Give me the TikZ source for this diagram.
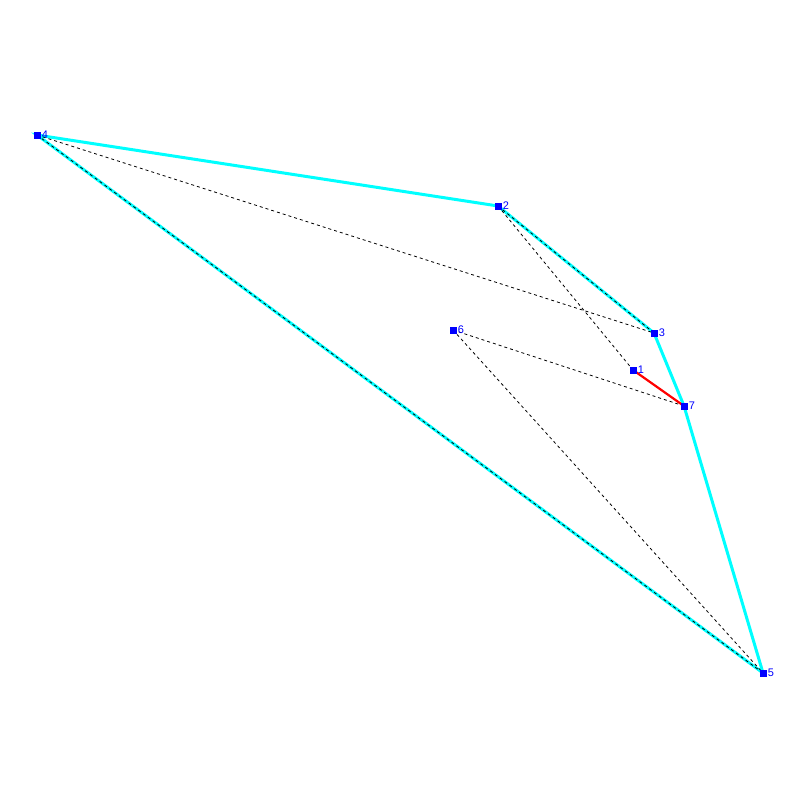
\documentclass[tikz,border=0pt]{standalone}
\usepackage{fontspec}
\setmainfont{Liberation Sans}
\tikzset{every picture/.style={line width=0.75pt}}
\tikzset{
  hull/.style={draw={rgb,255:red,0;green,255;blue,255},line width=3pt},
  chord/.style={draw=black,line width=0.8pt,dash pattern=on 3pt off 3pt},
  bridge/.style={draw={rgb,255:red,255;green,0;blue,0},line width=2.2pt},
  vertex/.style={fill={rgb,255:red,0;green,0;blue,255},minimum size=7pt,inner sep=0pt,outer sep=0pt,
    label={[text={rgb,255:red,0;green,0;blue,255},inner sep=0.5pt,label distance=0.5pt,font=\fontsize{11}{12}\selectfont]right:#1}}
}
\begin{document}
\begin{tikzpicture}[x=1pt,y=1pt,yscale=-1,xscale=1]
\useasboundingbox (0,0) rectangle (800,800);
% Points
\coordinate (p1) at (633,370);
\coordinate (p2) at (498,206);
\coordinate (p3) at (654,333);
\coordinate (p4) at (37,135);
\coordinate (p5) at (763,673);
\coordinate (p6) at (453,330);
\coordinate (p7) at (684,406);
%Shape: Hull
\draw[hull] (p4) -- (p2) -- (p3) -- (p7) -- (p5) -- cycle;
%Shape: Dashed chords
\draw[chord] (p4) -- (p3);
\draw[chord] (p4) -- (p5);
\draw[chord] (p2) -- (p3);
\draw[chord] (p2) -- (p1);
\draw[chord] (p6) -- (p7);
\draw[chord] (p6) -- (p5);
%Shape: Red edge
\draw[bridge] (p1) -- (p7);
% Vertex Nodes
\node[vertex=1] (v1) at (p1) {};
\node[vertex=2] (v2) at (p2) {};
\node[vertex=3] (v3) at (p3) {};
\node[vertex=4] (v4) at (p4) {};
\node[vertex=5] (v5) at (p5) {};
\node[vertex=6] (v6) at (p6) {};
\node[vertex=7] (v7) at (p7) {};
\end{tikzpicture}
\end{document}
